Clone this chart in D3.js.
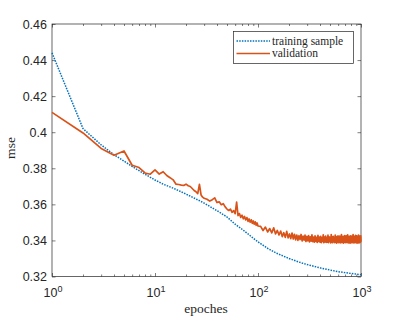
<!DOCTYPE html>
<html>
<head>
<meta charset="utf-8">
<script src="https://cdn.jsdelivr.net/npm/d3@7"></script>
<style>
  body { margin: 0; background: #fff; }
</style>
</head>
<body>
<div id="chart"></div>
<script>
// training curve (smooth), epoch -> mse
var trainEpochs = [1, 2, 3, 4, 5, 6, 7, 8, 9, 10, 12, 15, 20, 25, 30, 40, 50, 60, 70, 80, 90, 100,
    125, 150, 200, 250, 300, 400, 500, 600, 800, 1000];
var trainMse = [0.444, 0.402, 0.393, 0.3875, 0.384, 0.381, 0.3787, 0.3767, 0.375, 0.3735, 0.3712, 0.369,
    0.3657, 0.363, 0.3607, 0.3565, 0.353, 0.349, 0.3462, 0.3436, 0.3412, 0.3392,
    0.3355, 0.333, 0.330, 0.328, 0.3266, 0.3248, 0.3236, 0.3227, 0.3217, 0.321];

// validation curve, read in three epoch ranges
var valEpochsA = d3.range(1, 31);          // every epoch 1..30
var valMseA = [0.4110, 0.3996, 0.3910, 0.3872, 0.3896, 0.3817, 0.3804, 0.3774, 0.3767, 0.3791,
    0.3768, 0.3781, 0.3760, 0.3748, 0.3736, 0.3712, 0.3710, 0.3707, 0.3705, 0.3712,
    0.3703, 0.3699, 0.3688, 0.3677, 0.3670, 0.3660, 0.3711, 0.3652, 0.3640, 0.3634];

var valEpochsB = d3.range(32, 101, 2);     // 32..100
var valMseB = [0.3628, 0.3618, 0.3626, 0.3636, 0.3610, 0.3614, 0.3598, 0.3604, 0.3586, 0.3574,
    0.3566, 0.3574, 0.3556, 0.3565, 0.3548, 0.3613, 0.3538, 0.3549, 0.3528, 0.3540,
    0.3520, 0.3533, 0.3514, 0.3527, 0.3506, 0.3519, 0.3501, 0.3514, 0.3495, 0.3508,
    0.3490, 0.3503, 0.3484, 0.3497, 0.3480];

var valEpochsC = d3.range(106, 1001, 6);   // 106..1000
var valMseC = [0.3478, 0.3455, 0.3474, 0.3447, 0.3466, 0.3442, 0.3470, 0.3436, 0.3455, 0.3430,
    0.3452, 0.3421, 0.3443, 0.3417, 0.3450, 0.3414, 0.3436, 0.3410, 0.3441, 0.3408,
    0.3434, 0.3403, 0.3430, 0.3400, 0.3426, 0.3405, 0.3433, 0.3397, 0.3424, 0.3402,
    0.3429, 0.3394, 0.3422, 0.3398, 0.3427, 0.3392, 0.3420, 0.3396, 0.3431, 0.3393,
    0.3419, 0.3391, 0.3425, 0.3395, 0.3417, 0.3389, 0.3428, 0.3394, 0.3419, 0.3390,
    0.3423, 0.3388, 0.3416, 0.3395, 0.3431, 0.3387, 0.3418, 0.3392, 0.3424, 0.3389,
    0.3415, 0.3391, 0.3429, 0.3388, 0.3420, 0.3394, 0.3417, 0.3386, 0.3433, 0.3390,
    0.3419, 0.3387, 0.3422, 0.3393, 0.3416, 0.3388, 0.3430, 0.3391, 0.3421, 0.3385,
    0.3418, 0.3392, 0.3426, 0.3387, 0.3415, 0.3393, 0.3424, 0.3386, 0.3417, 0.3391,
    0.3432, 0.3388, 0.3419, 0.3394, 0.3423, 0.3385, 0.3416, 0.3392, 0.3427, 0.3389,
    0.3420, 0.3387, 0.3425, 0.3393, 0.3414, 0.3388, 0.3431, 0.3390, 0.3418, 0.3386,
    0.3422, 0.3391, 0.3417, 0.3385, 0.3426, 0.3392, 0.3419, 0.3387, 0.3424, 0.3393,
    0.3415, 0.3388, 0.3433, 0.3390, 0.3420, 0.3386, 0.3423, 0.3394, 0.3417, 0.3389,
    0.3428, 0.3387, 0.3419, 0.3392, 0.3425, 0.3385, 0.3416, 0.3391, 0.3422, 0.3388,
    0.3430, 0.3386, 0.3418, 0.3393, 0.3424, 0.3387, 0.3420, 0.3390, 0.3426, 0.3392];

var xMajor = [1, 10, 100, 1000];
var xMajorExp = ["0", "1", "2", "3"];
var yTicks = [0.32, 0.34, 0.36, 0.38, 0.4, 0.42, 0.44, 0.46];
var seriesNames = ["training sample", "validation"];

drawChart();

function drawChart() {
    var width = 399, height = 319;
    var left = 52, right = 361, top = 24, bottom = 276.5;
    var axisColor = "#262626";
    var sans = "'Liberation Sans', Arial, sans-serif";
    var serif = "'Liberation Serif', 'DejaVu Serif', serif";

    var svg = d3.select("#chart")
        .append("svg")
        .attr("width", width)
        .attr("height", height);

    var x = d3.scaleLog().domain([1, 1000]).range([left, right]);
    var y = d3.scaleLinear().domain([0.32, 0.46]).range([bottom, top]);

    // minor log ticks 2..9 per decade
    var xMinor = [];
    [1, 10, 100].forEach(function(d) {
        for (var k = 2; k <= 9; k++) xMinor.push(d * k);
    });

    function tickAxis(gen, tr, values, size) {
        var g = svg.append("g")
            .attr("transform", tr)
            .call(gen.tickValues(values).tickSize(size).tickFormat(""));
        g.select(".domain").remove();
        g.selectAll("line").attr("stroke", axisColor).attr("stroke-width", 0.6);
        return g;
    }

    // ticks point inward on all four sides
    tickAxis(d3.axisBottom(x), "translate(0," + bottom + ")", xMajor, -3.5);
    tickAxis(d3.axisBottom(x), "translate(0," + bottom + ")", xMinor, -2);
    tickAxis(d3.axisTop(x), "translate(0," + top + ")", xMajor, -3.5);
    tickAxis(d3.axisTop(x), "translate(0," + top + ")", xMinor, -2);
    tickAxis(d3.axisRight(y), "translate(" + right + ",0)", yTicks, -3.5);

    var yAxis = svg.append("g")
        .attr("transform", "translate(" + left + ",0)")
        .call(d3.axisLeft(y).tickValues(yTicks).tickSize(-3.5).tickPadding(5)
            .tickFormat(function(d) { return String(+d.toFixed(2)); }));
    yAxis.select(".domain").remove();
    yAxis.selectAll("line").attr("stroke", axisColor).attr("stroke-width", 0.6);
    yAxis.selectAll("text")
        .attr("font-family", sans)
        .attr("font-size", 12.5)
        .attr("fill", axisColor);

    // x tick labels as 10^k
    var xl = svg.append("g").selectAll("text")
        .data(xMajor)
        .enter()
        .append("text")
        .attr("x", function(d) { return x(d) + 1; })
        .attr("y", 297)
        .attr("text-anchor", "middle")
        .attr("font-family", sans)
        .attr("font-size", 12.5)
        .attr("fill", axisColor);
    xl.append("tspan").text("10");
    xl.append("tspan")
        .attr("dy", -5.5)
        .attr("font-size", 9)
        .text(function(d, i) { return xMajorExp[i]; });

    // box
    svg.append("rect")
        .attr("x", left)
        .attr("y", top)
        .attr("width", right - left)
        .attr("height", bottom - top)
        .attr("fill", "none")
        .attr("stroke", axisColor)
        .attr("stroke-width", 0.7);

    var line = d3.line()
        .x(function(d) { return x(d[0]); })
        .y(function(d) { return y(d[1]); });

    var trainData = d3.zip(trainEpochs, trainMse);
    var valData = d3.zip(valEpochsA.concat(valEpochsB, valEpochsC), valMseA.concat(valMseB, valMseC));

    svg.append("path")
        .datum(trainData)
        .attr("d", line)
        .attr("fill", "none")
        .attr("stroke", "#0072BD")
        .attr("stroke-width", 1.5)
        .attr("stroke-dasharray", "1.5,1.2");

    svg.append("path")
        .datum(valData)
        .attr("d", line)
        .attr("fill", "none")
        .attr("stroke", "#D95319")
        .attr("stroke-width", 1.7)
        .attr("stroke-linejoin", "round");

    // axis titles
    svg.append("text")
        .attr("x", 206)
        .attr("y", 313)
        .attr("text-anchor", "middle")
        .attr("font-family", serif)
        .attr("font-size", 13.5)
        .attr("fill", axisColor)
        .text("epoches");

    svg.append("text")
        .attr("transform", "translate(15,148) rotate(-90)")
        .attr("text-anchor", "middle")
        .attr("font-family", serif)
        .attr("font-size", 13.5)
        .attr("fill", axisColor)
        .text("mse");

    // legend
    var lg = svg.append("g");
    lg.append("rect")
        .attr("x", 233.5)
        .attr("y", 31.5)
        .attr("width", 120)
        .attr("height", 32)
        .attr("fill", "#fff")
        .attr("stroke", axisColor)
        .attr("stroke-width", 0.7);
    var colors = ["#0072BD", "#D95319"];
    var dashes = ["1.5,1.2", null];
    seriesNames.forEach(function(name, i) {
        var ly = 41 + i * 12.5;
        lg.append("line")
            .attr("x1", 236.5).attr("x2", 270)
            .attr("y1", ly).attr("y2", ly)
            .attr("stroke", colors[i])
            .attr("stroke-width", i == 0 ? 1.5 : 1.7)
            .attr("stroke-dasharray", dashes[i]);
        lg.append("text")
            .attr("x", 272)
            .attr("y", ly + 3.5)
            .attr("font-family", serif)
            .attr("font-size", 11.5)
            .attr("fill", axisColor)
            .text(name);
    });
}
</script>
</body>
</html>
